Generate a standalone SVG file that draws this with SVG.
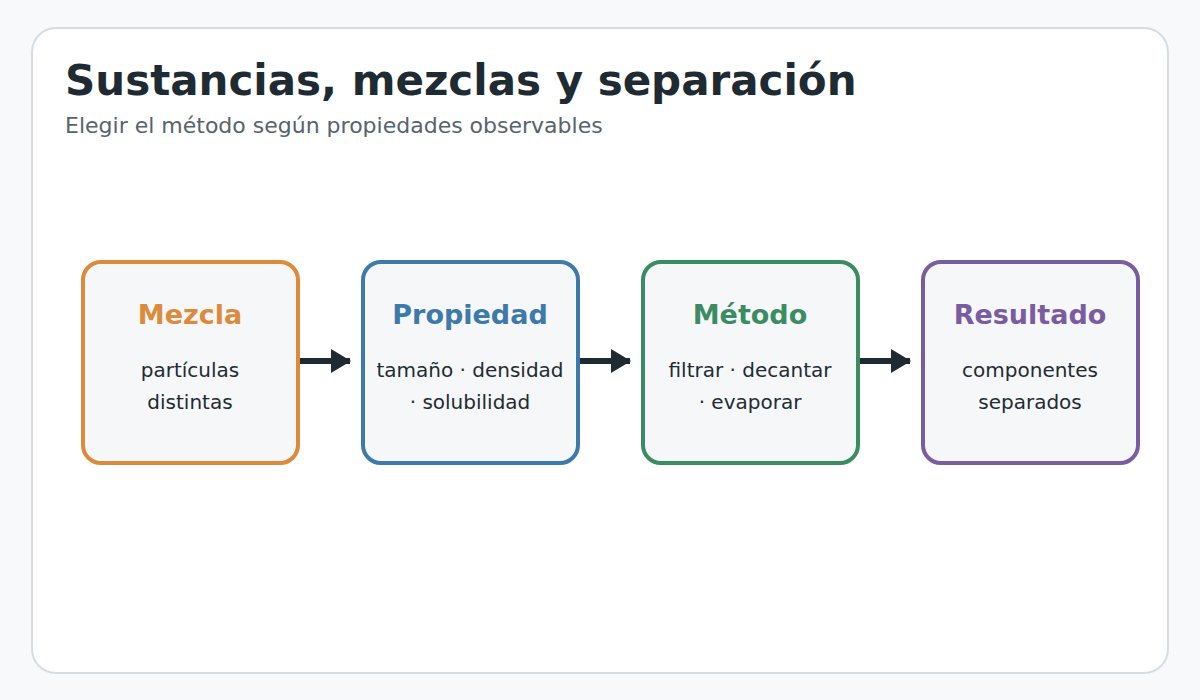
<svg xmlns="http://www.w3.org/2000/svg" width="1200" height="700" viewBox="0 0 1200 700">
<style>
  .title{font-family:"DejaVu Sans",sans-serif;font-weight:bold;font-size:42px;fill:#1f2b33}
  .sub{font-family:"DejaVu Sans",sans-serif;font-size:22px;fill:#56636c}
  .box{fill:#f5f7f9;stroke-width:4}
  .nt{font-family:"DejaVu Sans",sans-serif;font-weight:bold;font-size:27px;text-anchor:middle}
  .nb{font-family:"DejaVu Sans",sans-serif;font-size:20px;fill:#1f2b33;text-anchor:middle}
  .conn{stroke:#1f2b33;stroke-width:6;fill:none}
</style>
<defs>
  <marker id="arr" markerUnits="userSpaceOnUse" viewBox="0 0 20 24" markerWidth="20" markerHeight="24" refX="19" refY="12" orient="auto">
    <path d="M0,0 L20,12 L0,24 z" fill="#1f2b33"/>
  </marker>
</defs>
<rect x="0" y="0" width="1200" height="700" fill="#f8f9fb"/>
<rect x="32" y="28" width="1136" height="645" rx="24" fill="#ffffff" stroke="#d5dde2" stroke-width="2"/>
<text class="title" x="65" y="95">Sustancias, mezclas y separación</text>
<text class="sub" x="65" y="133">Elegir el método según propiedades observables</text>

<g id="connectors">
  <line class="conn" x1="300" y1="361" x2="350" y2="361" marker-end="url(#arr)"/>
  <line class="conn" x1="580" y1="361" x2="630" y2="361" marker-end="url(#arr)"/>
  <line class="conn" x1="860" y1="361" x2="910" y2="361" marker-end="url(#arr)"/>
</g>

<g id="node-mezcla">
  <rect class="box" x="83" y="262" width="215" height="201" rx="18" stroke="#dc8a3c"/>
  <text class="nt" x="190" y="324" fill="#dc8a3c">Mezcla</text>
  <text class="nb" x="190" y="377">partículas</text>
  <text class="nb" x="190" y="409">distintas</text>
</g>
<g id="node-propiedad">
  <rect class="box" x="363" y="262" width="215" height="201" rx="18" stroke="#3e7aa9"/>
  <text class="nt" x="470" y="324" fill="#3e7aa9">Propiedad</text>
  <text class="nb" x="470" y="377">tamaño · densidad</text>
  <text class="nb" x="470" y="409">· solubilidad</text>
</g>
<g id="node-metodo">
  <rect class="box" x="643" y="262" width="215" height="201" rx="18" stroke="#3b8c63"/>
  <text class="nt" x="750" y="324" fill="#3b8c63">Método</text>
  <text class="nb" x="750" y="377">filtrar · decantar</text>
  <text class="nb" x="750" y="409">· evaporar</text>
</g>
<g id="node-resultado">
  <rect class="box" x="923" y="262" width="215" height="201" rx="18" stroke="#7a5ca0"/>
  <text class="nt" x="1030" y="324" fill="#7a5ca0">Resultado</text>
  <text class="nb" x="1030" y="377">componentes</text>
  <text class="nb" x="1030" y="409">separados</text>
</g>
</svg>
